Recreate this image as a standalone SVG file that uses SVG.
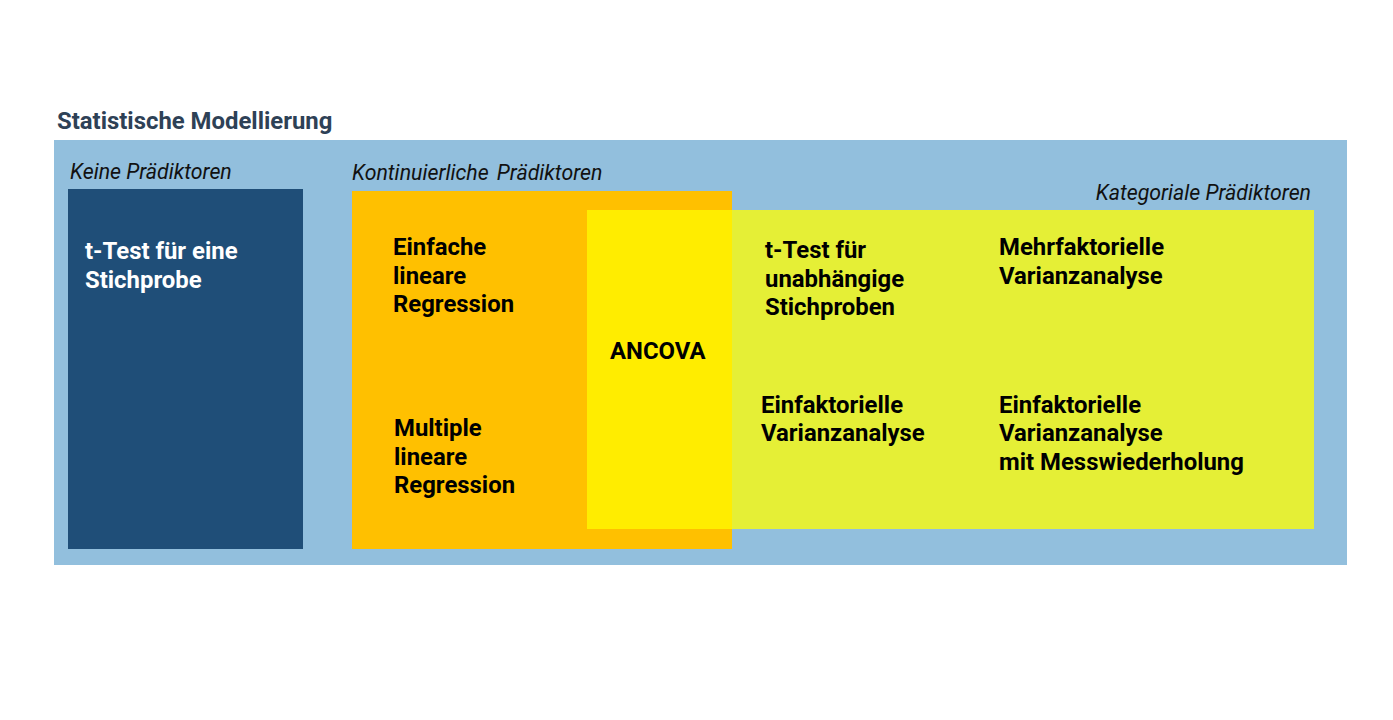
<svg xmlns="http://www.w3.org/2000/svg" width="1393" height="720" viewBox="0 0 1393 720">
  <style>
    .title { font-family: Roboto, "Liberation Sans", sans-serif; font-weight: 700; font-size: 23.9px; fill: #2E4156; }
    .grp { font-family: Roboto, "Liberation Sans", sans-serif; font-style: italic; font-size: 21.3px; fill: #111; }
    .lbl { font-family: Roboto, "Liberation Sans", sans-serif; font-weight: 700; font-size: 23.9px; fill: #000; }
    .lbl.light { fill: #fff; }
  </style>
  <rect width="1393" height="720" fill="#fff"/>
  <text class="title" x="57" y="129">Statistische Modellierung</text>

  <g id="frame">
    <rect x="54" y="140" width="1293" height="425" fill="#92BFDD"/>
  </g>

  <g id="group-labels">
    <text class="grp" x="70" y="179">Keine Prädiktoren</text>
    <text class="grp" x="352" y="180">Kontinuierliche <tspan dx="3">Prädiktoren</tspan></text>
    <text class="grp" x="1311" y="200" text-anchor="end">Kategoriale Prädiktoren</text>
  </g>

  <g id="keine">
    <rect x="68" y="189" width="235" height="360" fill="#1F4E78"/>
    <text class="lbl light" x="85"><tspan x="85" y="259">t-Test für eine</tspan><tspan x="85" y="288">Stichprobe</tspan></text>
  </g>

  <g id="kontinuierlich">
    <rect x="352" y="191" width="380" height="358" fill="#FFC000"/>
  </g>

  <g id="kategorial">
    <rect x="587" y="210" width="727" height="319" fill="#E5EF36"/>
  </g>

  <g id="ancova">
    <rect x="587" y="210" width="145" height="319" fill="#FFED00"/>
    <text class="lbl" x="610" y="359">ANCOVA</text>
  </g>

  <g id="einfache-regression">
    <text class="lbl"><tspan x="393" y="255">Einfache</tspan><tspan x="393" y="284">lineare</tspan><tspan x="393" y="312">Regression</tspan></text>
  </g>
  <g id="multiple-regression">
    <text class="lbl"><tspan x="394" y="436">Multiple</tspan><tspan x="394" y="465">lineare</tspan><tspan x="394" y="493">Regression</tspan></text>
  </g>
  <g id="ttest-unabhaengig">
    <text class="lbl"><tspan x="765" y="258">t-Test für</tspan><tspan x="765" y="287">unabhängige</tspan><tspan x="765" y="315">Stichproben</tspan></text>
  </g>
  <g id="mehrfaktoriell">
    <text class="lbl"><tspan x="999" y="255">Mehrfaktorielle</tspan><tspan x="999" y="284">Varianzanalyse</tspan></text>
  </g>
  <g id="einfaktoriell">
    <text class="lbl"><tspan x="761" y="413">Einfaktorielle</tspan><tspan x="761" y="441">Varianzanalyse</tspan></text>
  </g>
  <g id="einfaktoriell-mw">
    <text class="lbl"><tspan x="999" y="413">Einfaktorielle</tspan><tspan x="999" y="441">Varianzanalyse</tspan><tspan x="999" y="470">mit Messwiederholung</tspan></text>
  </g>
</svg>
